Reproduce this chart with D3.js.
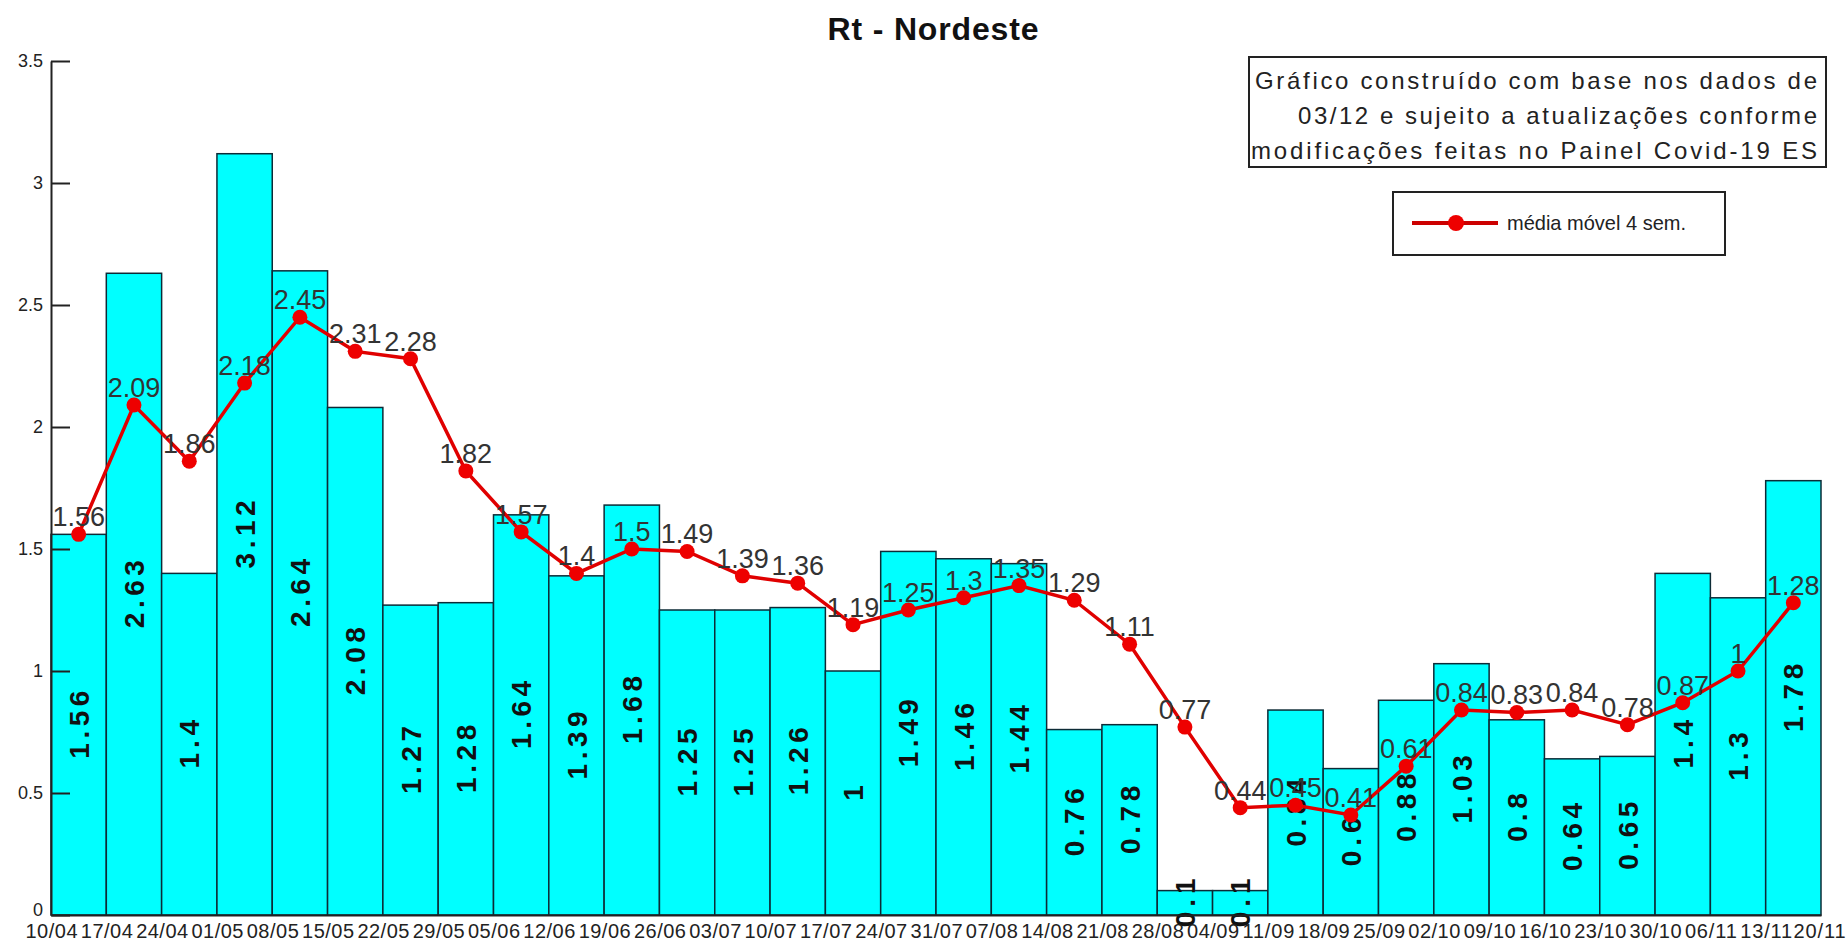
<!DOCTYPE html>
<html>
<head>
<meta charset="utf-8">
<script src="https://cdn.jsdelivr.net/npm/d3@7"></script>
<style>
  html, body { margin: 0; padding: 0; background: #fff; }
  svg { display: block; }
  text { font-family: "Liberation Sans", Arial, sans-serif; }
</style>
</head>
<body>
<svg id="chart" width="1846" height="944"></svg>
<script>
// ---- data ----
const dateLabels = ["10/04","17/04","24/04","01/05","08/05","15/05","22/05","29/05","05/06","12/06","19/06","26/06","03/07","10/07","17/07","24/07","31/07","07/08","14/08","21/08","28/08","04/09","11/09","18/09","25/09","02/10","09/10","16/10","23/10","30/10","06/11","13/11","20/11"];
const rtValues = [1.56, 2.63, 1.4, 3.12, 2.64, 2.08, 1.27, 1.28, 1.64, 1.39, 1.68, 1.25, 1.25, 1.26, 1, 1.49, 1.46, 1.44, 0.76, 0.78, 0.1, 0.1, 0.84, 0.6, 0.88, 1.03, 0.8, 0.64, 0.65, 1.4, 1.3, 1.78];
const movingAvg = [1.56, 2.09, 1.86, 2.18, 2.45, 2.31, 2.28, 1.82, 1.57, 1.4, 1.5, 1.49, 1.39, 1.36, 1.19, 1.25, 1.3, 1.35, 1.29, 1.11, 0.77, 0.44, 0.45, 0.41, 0.61, 0.84, 0.83, 0.84, 0.78, 0.87, 1, 1.28];
const yTicks = [0, 0.5, 1, 1.5, 2, 2.5, 3, 3.5];
const titleText = "Rt - Nordeste";
const noteLines = ["Gráfico construído com base nos dados de", "03/12 e sujeito a atualizações conforme", "modificações feitas no Painel Covid-19 ES"];
const legendText = "média móvel 4 sem.";

// ---- layout ----
const svg = d3.select("#chart");
const x0 = 51, x1 = 1821, yBase = 915, yTop = 61;
const x = d3.scaleBand().domain(d3.range(rtValues.length)).range([x0, x1]).padding(0);
const y = d3.scaleLinear().domain([0, 3.5]).range([yBase, yTop]);
const edge = d3.scaleLinear().domain([0, rtValues.length]).range([x0, x1]);

function fit(sel, factor) {
  sel.each(function() {
    const w = this.getComputedTextLength();
    d3.select(this).attr("textLength", w * factor).attr("lengthAdjust", "spacing");
  });
}

svg.append("rect").attr("width", 1846).attr("height", 944).attr("fill", "#fff");

// title
svg.append("text").attr("x", 933).attr("y", 40).attr("text-anchor", "middle")
  .attr("font-size", 32).attr("font-weight", "bold").attr("fill", "#111")
  .text(titleText).attr("textLength", 211).attr("lengthAdjust", "spacing");

// bars
svg.append("g").selectAll("rect").data(rtValues).join("rect")
  .attr("x", (d, i) => x(i)).attr("width", x.bandwidth())
  .attr("y", d => y(d)).attr("height", d => yBase - y(d))
  .attr("fill", "#00ffff").attr("stroke", "#0d2b36").attr("stroke-width", 1.5);

// bar labels
const bl = svg.append("g").selectAll("text").data(rtValues).join("text")
  .attr("transform", (d, i) => `translate(${x(i) + x.bandwidth() / 2},${(y(d) + yBase) / 2}) rotate(-90)`)
  .attr("text-anchor", "middle").attr("dy", "0.36em")
  .attr("font-size", 28).attr("font-weight", "bold").attr("fill", "#111")
  .text(d => String(d));
fit(bl, 1.25);

// axes
const yAxis = d3.axisLeft(y).tickValues(yTicks).tickSize(0).tickPadding(8).tickFormat(d => String(d));
const gy = svg.append("g").attr("transform", `translate(${x0},0)`).call(yAxis);
gy.select(".domain").attr("stroke", "#222").attr("stroke-width", 2);
gy.selectAll(".tick text").attr("font-size", 18).attr("fill", "#222").attr("font-family", "Liberation Sans, Arial, sans-serif");
gy.selectAll(".tick text").filter(d => d === 0).attr("y", -5);
gy.selectAll(".tick").append("line").attr("x1", 0).attr("x2", 19).attr("stroke", "#222").attr("stroke-width", 2);

const xAxis = d3.axisBottom(edge).tickValues(d3.range(dateLabels.length)).tickSize(0).tickPadding(10)
  .tickFormat(i => dateLabels[i]);
const gx = svg.append("g").attr("transform", `translate(0,${yBase})`).call(xAxis);
gx.select(".domain").attr("stroke", "#222").attr("stroke-width", 2);
gx.selectAll(".tick text").attr("font-size", 20).attr("fill", "#222")
  .attr("font-family", "Liberation Sans, Arial, sans-serif")
  .attr("dy", null).attr("y", 23)
  .attr("textLength", 52).attr("lengthAdjust", "spacing");
// keep the last label inside the picture
gx.selectAll(".tick text").filter((d, i) => i === dateLabels.length - 1)
  .attr("text-anchor", "end").attr("x", 24);

// moving average line
const cx = i => x(i) + x.bandwidth() / 2;
const line = d3.line().x((d, i) => cx(i)).y(d => y(d));
svg.append("path").datum(movingAvg).attr("d", line)
  .attr("fill", "none").attr("stroke", "#e00000").attr("stroke-width", 3.5);
svg.append("g").selectAll("circle").data(movingAvg).join("circle")
  .attr("cx", (d, i) => cx(i)).attr("cy", d => y(d)).attr("r", 7.5).attr("fill", "#ee0000");
svg.append("g").selectAll("text").data(movingAvg).join("text")
  .attr("x", (d, i) => cx(i)).attr("y", d => y(d) - 8).attr("text-anchor", "middle")
  .attr("font-size", 27).attr("fill", "#333").text(d => String(d));

// note box
const note = svg.append("g");
note.append("rect").attr("x", 1249).attr("y", 57).attr("width", 577).attr("height", 110)
  .attr("fill", "#fff").attr("stroke", "#222").attr("stroke-width", 2);
const noteWidths = [562, 519, 566];
note.selectAll("text").data(noteLines).join("text")
  .attr("x", 1817).attr("y", (d, i) => 89 + i * 35).attr("text-anchor", "end")
  .attr("font-size", 24).attr("fill", "#222")
  .attr("textLength", (d, i) => noteWidths[i]).attr("lengthAdjust", "spacing")
  .text(d => d);

// legend
const lg = svg.append("g");
lg.append("rect").attr("x", 1393).attr("y", 192).attr("width", 332).attr("height", 63)
  .attr("fill", "#fff").attr("stroke", "#222").attr("stroke-width", 2);
lg.append("line").attr("x1", 1412).attr("x2", 1498).attr("y1", 223).attr("y2", 223)
  .attr("stroke", "#cc0000").attr("stroke-width", 4);
lg.append("circle").attr("cx", 1456).attr("cy", 223).attr("r", 8).attr("fill", "#ee0000");
lg.append("text").attr("x", 1507).attr("y", 230).attr("font-size", 21).attr("fill", "#222")
  .attr("textLength", 179).attr("lengthAdjust", "spacingAndGlyphs").text(legendText);
</script>
</body>
</html>
